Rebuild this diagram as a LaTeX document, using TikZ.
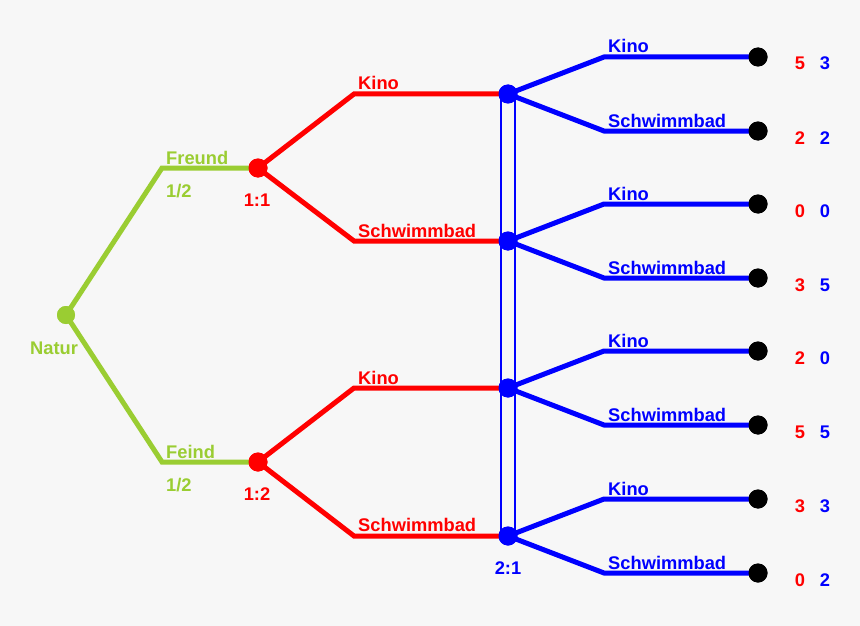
\documentclass[tikz,border=0pt]{standalone}
\usepackage{fontspec}
\setmainfont{Liberation Sans}
\definecolor{bg}{HTML}{F7F7F7}
\definecolor{nat}{RGB}{154,205,50}
\definecolor{pr}{RGB}{255,0,0}
\definecolor{pb}{RGB}{0,0,255}
\begin{document}
\begin{tikzpicture}[x=1pt,y=-1pt,
  br/.style={line width=5pt,line join=miter},
  dot/.style={circle,inner sep=0pt,minimum size=19pt},
  lbl/.style={font=\bfseries\fontsize{18.3}{18.3}\selectfont,inner sep=0pt},
]
\fill[bg] (0,0) rectangle (860,626);
\useasboundingbox (0,0) rectangle (860,626);
% information set
\draw[draw=pb,line width=1.2pt] (501,94) rectangle (515,536);
% nature
\node[dot,fill=nat,minimum size=18pt] (N) at (66,315) {};
\coordinate (fa) at (162,168);
\coordinate (fb) at (162,462);
\node[dot,fill=pr] (P1) at (258,168) {};
\node[dot,fill=pr] (P2) at (258,462) {};
\draw[br,nat] (N.center) -- (fa) -- (P1.center);
\draw[br,nat] (N.center) -- (fb) -- (P2.center);
\node[dot,fill=nat,minimum size=18pt] at (66,315) {};
\node[dot,fill=pr] at (258,168) {};
\node[dot,fill=pr] at (258,462) {};
\node[lbl,nat,anchor=base west] (tN) at (30,354) {Natur};
\node[lbl,nat,anchor=base west] (tF) at (166,164) {Freund};
\node[lbl,nat,anchor=base west] (tF2) at (166,197) {1/2};
\node[lbl,nat,anchor=base west] (tE) at (166,458) {Feind};
\node[lbl,nat,anchor=base west] (tE2) at (166,491) {1/2};
\node[lbl,pr,anchor=base] (t11) at (257,206) {1:1};
\node[lbl,pr,anchor=base] (t12) at (257,500) {1:2};
% second level
\foreach \i/\p/\y in {1/P1/94,2/P1/241,3/P2/388,4/P2/536}{
  \coordinate (r\i) at (354,\y);
  \node[dot,fill=pb] (B\i) at (508,\y) {};
  \draw[br,pr] (\p.center) -- (r\i) -- (B\i.center);
}
\foreach \i/\y in {1/90,3/384}{
  \node[lbl,pr,anchor=base west] at (358,\y) {Kino};
}
\foreach \i/\y in {2/237,4/531}{
  \node[lbl,pr,anchor=base west] at (358,\y) {Schwimmbad};
}
\node[lbl,pb,anchor=base] (t21) at (508,574) {2:1};
% third level
\foreach \i/\y/\a/\b/\c/\d in {1/94/5/3/2/2,2/241/0/0/3/5,3/388/2/0/5/5,4/536/3/3/0/2}{
  \coordinate (u\i) at (604,\y-37);
  \coordinate (d\i) at (604,\y+37);
  \node[dot,fill=black] (Lu\i) at (758,\y-37) {};
  \node[dot,fill=black] (Ld\i) at (758,\y+37) {};
  \draw[br,pb] (B\i.center) -- (u\i) -- (Lu\i.center);
  \draw[br,pb] (B\i.center) -- (d\i) -- (Ld\i.center);
  \node[dot,fill=black] at (758,\y-37) {};
  \node[dot,fill=black] at (758,\y+37) {};
  \node[dot,fill=pb] at (508,\y) {};
  \node[lbl,pb,anchor=base west] at (608,\y-41) {Kino};
  \node[lbl,pb,anchor=base west] at (608,\y+33) {Schwimmbad};
  \node[lbl,pr,anchor=base] at (800,\y-24) {\a};
  \node[lbl,pb,anchor=base] at (825,\y-24) {\b};
  \node[lbl,pr,anchor=base] at (800,\y+50) {\c};
  \node[lbl,pb,anchor=base] at (825,\y+50) {\d};
}
\end{tikzpicture}
\end{document}
